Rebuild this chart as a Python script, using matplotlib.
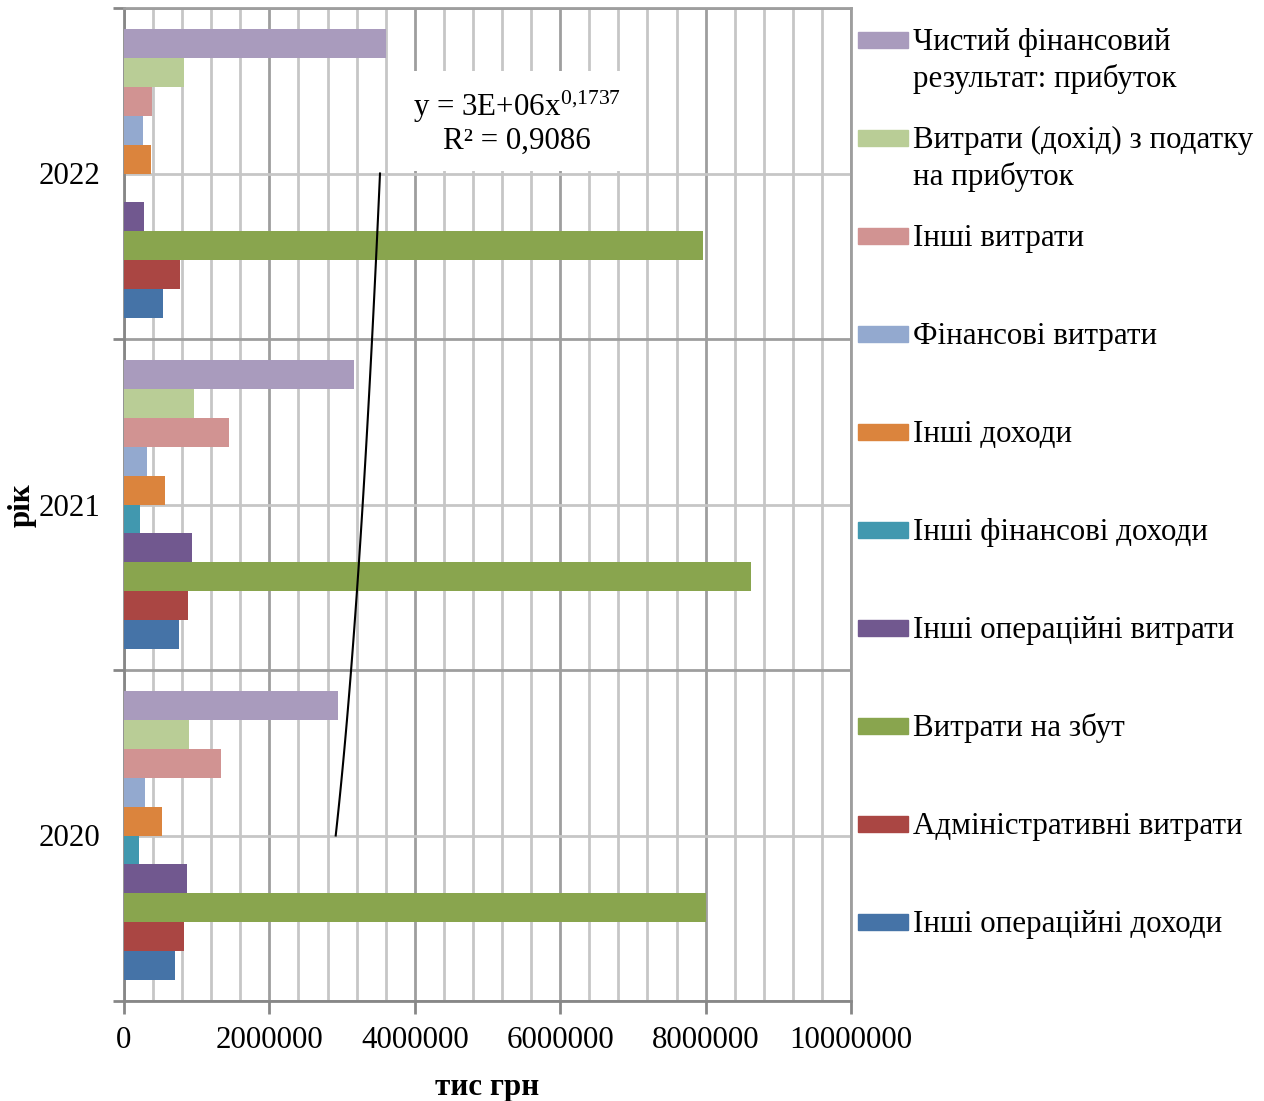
import numpy as np
import matplotlib
matplotlib.use('Agg')
from matplotlib import pyplot as plt
from matplotlib.patches import Rectangle

plt.rcParams['font.family'] = ['Liberation Serif', 'DejaVu Serif']
plt.rcParams['mathtext.fontset'] = 'custom'
plt.rcParams['mathtext.rm'] = 'Liberation Serif'
plt.rcParams['mathtext.it'] = 'Liberation Serif:italic'

years = ['2020', '2021', '2022']

# series in drawing order (bottom bar of each group first)
series_names = [
    'Інші операційні доходи',
    'Адміністративні витрати',
    'Витрати на збут',
    'Інші операційні витрати',
    'Інші фінансові доходи',
    'Інші доходи',
    'Фінансові витрати',
    'Інші витрати',
    'Витрати (дохід) з податку\nна прибуток',
    'Чистий фінансовий\nрезультат: прибуток',
]

# values, тис грн, per year 2020, 2021, 2022
other_oper_income = [700000, 750000, 530000]
admin_costs = [820000, 880000, 770000]
sales_costs = [8010000, 8630000, 7960000]
other_oper_costs = [860000, 930000, 270000]
other_fin_income = [210000, 220000, 0]
other_income = [520000, 560000, 370000]
fin_costs = [290000, 320000, 260000]
other_costs = [1340000, 1440000, 380000]
profit_tax = [890000, 960000, 830000]
net_profit = [2950000, 3170000, 3600000]

series_values = [other_oper_income, admin_costs, sales_costs, other_oper_costs,
                 other_fin_income, other_income, fin_costs, other_costs,
                 profit_tax, net_profit]

colors = ['#4573A7', '#AA4643', '#89A54E', '#71588F', '#4198AF',
          '#DB843D', '#93A9CF', '#D19392', '#B9CD96', '#A99BBD']

trend_label = 'y = 3E+06x$^{0{,}1737}$\nR² = 0,9086'

FS = 22.3
GRID_MAJOR = '#9E9E9E'

fig = plt.figure(figsize=(12.64, 11.01), dpi=100)
ax = fig.add_axes([124 / 1264, 1 - 1001 / 1101, (851 - 124) / 1264, (1001 - 8) / 1101])

n = len(series_names)
h = 0.873 / n
cat = np.arange(len(years))
for i, (vals, c) in enumerate(zip(series_values, colors)):
    ax.barh(cat + (i - (n - 1) / 2) * h, vals, height=h, color=c, zorder=3)

# power trendline on net profit
xs = np.arange(1, len(years) + 1)
b, lna = np.polyfit(np.log(xs), np.log(net_profit), 1)
xt = np.linspace(1, len(years), 100)
ax.plot(np.exp(lna) * xt ** b, xt - 1, color='black', lw=1.5, zorder=4)

ax.text(0.541, 0.885, trend_label, transform=ax.transAxes, ha='center', va='center',
        fontsize=FS, linespacing=1.1, zorder=5,
        bbox=dict(facecolor='white', edgecolor='none', pad=11))

ax.set_xlim(0, 10000000)
ax.set_ylim(-0.5, len(years) - 0.5)
ax.set_xticks(np.arange(0, 10000001, 2000000))
ax.set_xticks(np.arange(0, 10000001, 400000), minor=True)
ax.set_xticklabels([f'{v:d}' for v in range(0, 10000001, 2000000)], fontsize=FS)
ax.set_yticks(np.arange(len(years) + 1) - 0.5)
ax.set_yticklabels([])
ax.set_yticks(cat, minor=True)
ax.set_yticklabels(years, minor=True, fontsize=FS)

ax.tick_params(axis='x', which='major', length=9, width=2, color='#878787', pad=9)
ax.tick_params(axis='x', which='minor', length=0)
ax.tick_params(axis='y', which='major', length=8, width=2, color='#878787')
ax.tick_params(axis='y', which='minor', length=0, pad=17)

ax.grid(True, which='major', color=GRID_MAJOR, lw=2, zorder=0)
ax.grid(True, which='minor', color='#C6C6C6', lw=2, zorder=0)
ax.set_axisbelow(True)
for s in ['top', 'right']:
    ax.spines[s].set_color(GRID_MAJOR)
    ax.spines[s].set_linewidth(2)
for s in ['left', 'bottom']:
    ax.spines[s].set_color('#878787')
    ax.spines[s].set_linewidth(2)

ax.set_xlabel('тис грн', fontsize=FS, fontweight='bold', labelpad=13)
fig.text(22 / 1264, 1 - 505 / 1101, 'рік', rotation=90, ha='center', va='center',
         fontsize=FS, fontweight='bold')

# legend drawn by hand, top entry = last series
for k, i in enumerate(range(n - 1, -1, -1)):
    yc = 1 - (40 + 98 * k) / 1101
    fig.patches.append(Rectangle((858 / 1264, yc - 8 / 1101), 50 / 1264, 16 / 1101,
                                 transform=fig.transFigure, color=colors[i]))
    for j, line in enumerate(series_names[i].split('\n')):
        fig.text(913 / 1264, yc - (10 + 37 * j) / 1101, line, ha='left', va='baseline',
                 fontsize=FS)

fig.savefig('out.png', dpi=100)
